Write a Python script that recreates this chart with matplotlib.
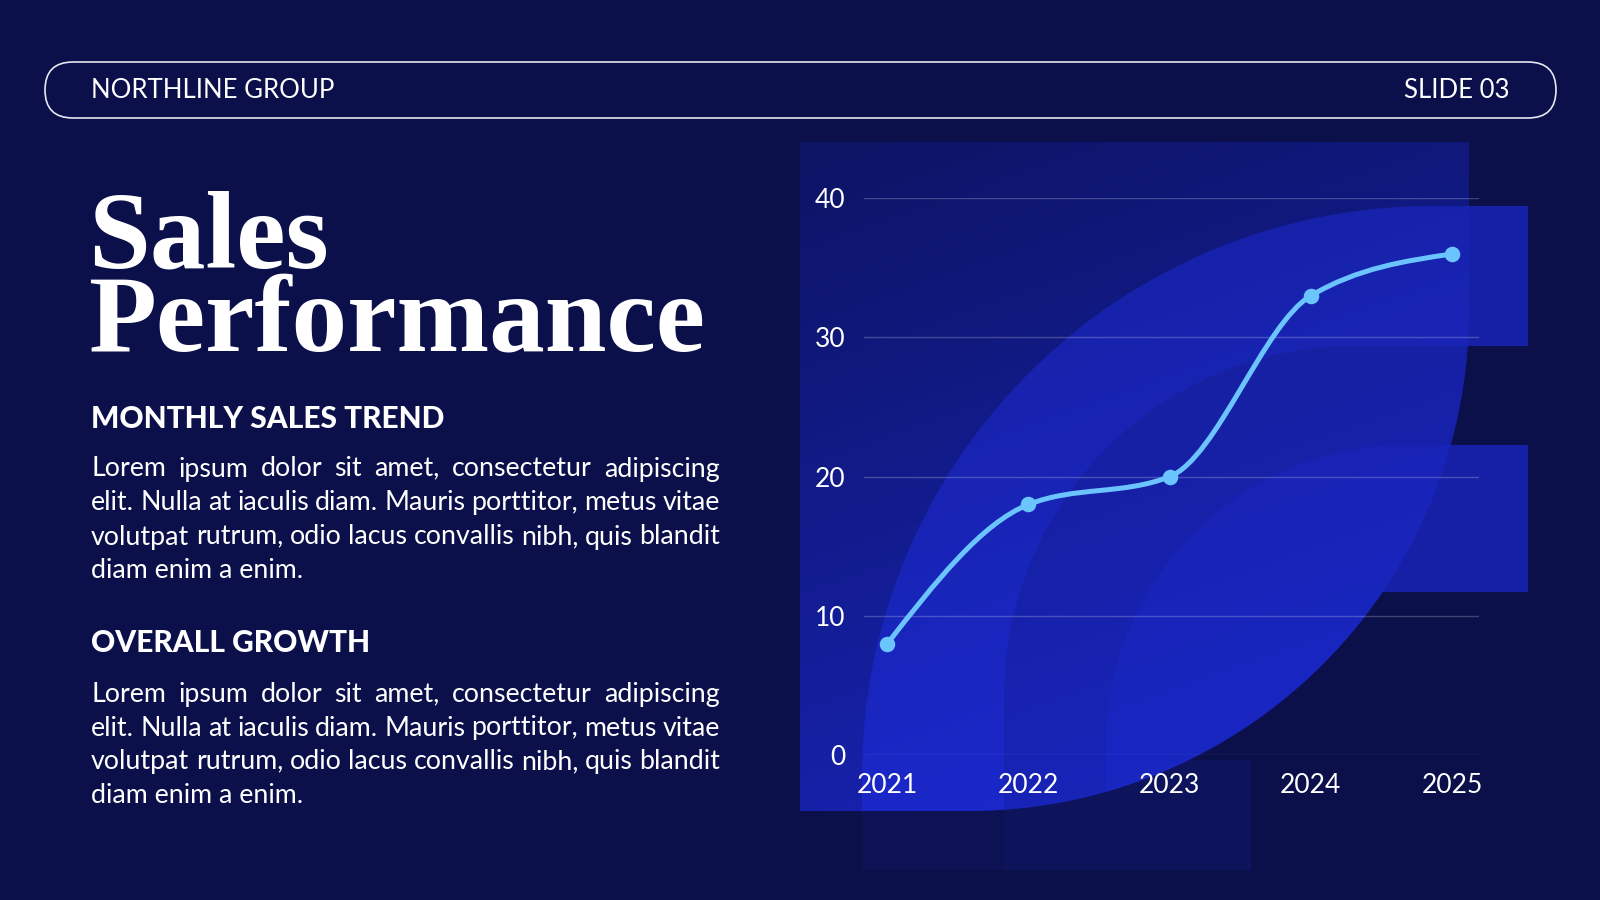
import matplotlib.pyplot as plt
import numpy as np
from matplotlib.patches import PathPatch, FancyBboxPatch, Rectangle
from matplotlib.path import Path

# data
years = [2021, 2022, 2023, 2024, 2025]
sales = [8, 18, 20, 33, 36]
y_ticks = [0, 10, 20, 30, 40]

header_left = 'NORTHLINE GROUP'
header_right = 'SLIDE 03'
title = 'Sales\nPerformance'
heading_1 = 'MONTHLY SALES TREND'
heading_2 = 'OVERALL GROWTH'
para_lines = ['Lorem ipsum dolor sit amet, consectetur adipiscing',
              'elit. Nulla at iaculis diam. Mauris porttitor, metus vitae',
              'volutpat rutrum, odio lacus convallis nibh, quis blandit',
              'diam enim a enim.']

BG = '#0b0f4a'
LINE = '#6cc4ff'
SANS = ['Lato', 'DejaVu Sans']
PARA_SIZE = 19.3

fig = plt.figure(figsize=(16, 9), dpi=100, facecolor=BG)

# full-figure layer in pixel units (y down)
bg = fig.add_axes([0, 0, 1, 1], zorder=0)
bg.set_xlim(0, 1600)
bg.set_ylim(900, 0)
bg.axis('off')
bg.set_facecolor(BG)


def arc(cx, cy, r, t0, t1, n=60):
    t = np.linspace(t0, t1, n)
    return np.column_stack([cx + r * np.cos(t), cy + r * np.sin(t)])


def rounded_tl(left, top, right, bottom, r):
    pts = [[left, bottom], [left, top + r]]
    pts += arc(left + r, top + r, r, np.pi, 1.5 * np.pi).tolist()
    pts += [[right, top], [right, bottom], [left, bottom]]
    return Path(pts, closed=True)


# pieces of the logo shape sitting outside the big square
bg.add_patch(Rectangle((1400, 206), 128, 140, color='#1520a6', lw=0, zorder=1))
bg.add_patch(Rectangle((1250, 445), 278, 147, color='#1520a6', lw=0, zorder=1))
bg.add_patch(Rectangle((862, 760), 142, 110, color='#0c1254', lw=0, zorder=1))
bg.add_patch(Rectangle((1004, 760), 247, 110, color='#0d145c', lw=0, zorder=1))

# big square with rounded bottom-right corner
r1 = 500
sq_bottom = 811
sq = [[800, 142], [1469, 142], [1469, sq_bottom - r1]]
sq += arc(1469 - r1, sq_bottom - r1, r1, 0, 0.5 * np.pi).tolist()
sq += [[800, sq_bottom], [800, 142]]
sq_patch = PathPatch(Path(sq, closed=True), facecolor='none', edgecolor='none')
bg.add_patch(sq_patch)

gx, gy = np.meshgrid(np.linspace(800, 1469, 200), np.linspace(142, sq_bottom, 200))
t = (0.35 * (gx - 800) + (gy - 142)) / (0.35 * 669 + (sq_bottom - 142))
c0 = np.array([13, 20, 100]) / 255
c1 = np.array([25, 37, 192]) / 255
grad = c0 + t[..., None] * (c1 - c0)
im = bg.imshow(grad, extent=[800, 1469, sq_bottom, 142], zorder=2, interpolation='bilinear')
im.set_clip_path(sq_patch)

for (left, top, r, col, a) in [(862, 206, 570, '#2435ff', 0.34),
                               (1004, 346, 350, BG, 0.15),
                               (1106, 445, 300, '#2435ff', 0.15)]:
    p = PathPatch(rounded_tl(left, top, 1600, 900, r), facecolor=col, alpha=a,
                  edgecolor='none', zorder=3)
    bg.add_patch(p)
    p.set_clip_path(sq_patch)

# header pill
bg.add_patch(FancyBboxPatch((45, 62), 1511, 56, boxstyle='round,pad=0,rounding_size=28',
                            facecolor='none', edgecolor='#e6e8f2', lw=1.2, zorder=5))
bg.text(91, 98.5, header_left, color='white', fontsize=18.5, family=SANS, va='baseline', ha='left')
bg.text(1509, 98.5, header_right, color='white', fontsize=18.5, family=SANS, va='baseline', ha='right')

# title, two tight lines in one text (baseline = last line)
bg.text(88, 351, title, color='white', fontsize=80, family='Liberation Serif',
        weight='bold', va='baseline', linespacing=0.78)

bg.text(91, 427.5, heading_1, color='white', fontsize=21.5, family=SANS, weight='black', va='baseline')
bg.text(91, 652, heading_2, color='white', fontsize=21.5, family=SANS, weight='black', va='baseline')

renderer = fig.canvas.get_renderer()


def justified(lines, x0, x1, baselines):
    for i, (line, yb) in enumerate(zip(lines, baselines)):
        if i == len(lines) - 1:
            bg.text(x0, yb, line, color='white', fontsize=PARA_SIZE, family=SANS, va='baseline')
            continue
        words = line.split()
        texts = [bg.text(0, yb, w, color='white', fontsize=PARA_SIZE, family=SANS, va='baseline')
                 for w in words]
        widths = [tx.get_window_extent(renderer).width for tx in texts]
        gap = ((x1 - x0) - sum(widths)) / (len(words) - 1)
        x = x0
        for tx, w in zip(texts, widths):
            tx.set_x(x)
            x += w + gap


justified(para_lines, 91, 720, [476.5, 510, 544.5, 578.5])
justified(para_lines, 91, 720, [702, 735.5, 769, 803])

# chart
ax = fig.add_axes([864 / 1600, (900 - 755) / 900, 615 / 1600, (755 - 198.3) / 900], zorder=2)
ax.set_facecolor('none')
ax.set_xlim(2020.835, 2025.191)
ax.set_ylim(0, 40)
for s in ax.spines.values():
    s.set_visible(False)
ax.set_yticks(y_ticks)
ax.set_xticks(years)
ax.set_xticklabels([str(y) for y in years])
ax.tick_params(length=0, colors='white', labelsize=19)
ax.tick_params(axis='y', pad=13.5)
ax.tick_params(axis='x', pad=13)
for lab in ax.get_xticklabels() + ax.get_yticklabels():
    lab.set_family(SANS)
ax.grid(axis='y', color='white', alpha=0.22, lw=1)
ax.set_axisbelow(True)

# smooth monotone curve through the points, drawn as cubic Bezier segments
xs = np.array(years, dtype=float)
ys = np.array(sales, dtype=float)
h = np.diff(xs)
sl = np.diff(ys) / h
m = np.zeros(len(xs))
for i in range(1, len(xs) - 1):
    p = (sl[i - 1] * h[i] + sl[i] * h[i - 1]) / (h[i - 1] + h[i])
    m[i] = (np.sign(sl[i - 1]) + np.sign(sl[i])) * min(abs(sl[i - 1]), abs(sl[i]), 0.5 * abs(p))
m[0] = (3 * sl[0] - m[1]) / 2
m[-1] = (3 * sl[-1] - m[-2]) / 2
verts = [(xs[0], ys[0])]
codes = [Path.MOVETO]
for i in range(len(xs) - 1):
    d = h[i] / 3
    verts += [(xs[i] + d, ys[i] + m[i] * d), (xs[i + 1] - d, ys[i + 1] - m[i + 1] * d),
              (xs[i + 1], ys[i + 1])]
    codes += [Path.CURVE4] * 3
ax.add_patch(PathPatch(Path(verts, codes), facecolor='none', edgecolor=LINE, lw=3.6,
                       capstyle='round', zorder=3, clip_on=False))
ax.scatter(years, sales, s=125, color=LINE, zorder=4, clip_on=False, linewidths=0)

fig.savefig('out.png', dpi=100, facecolor=BG)
